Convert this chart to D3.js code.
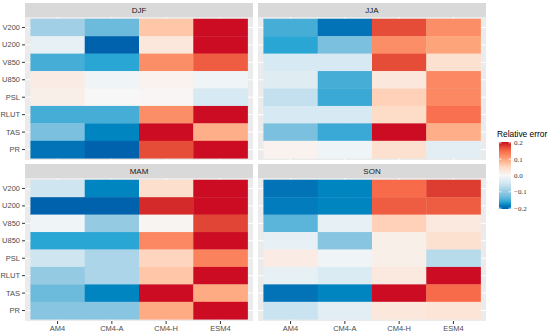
<!DOCTYPE html>
<html>
<head>
<meta charset="utf-8">
<script src="https://cdn.jsdelivr.net/npm/d3@7"></script>
<style>
  body { margin: 0; background: #fff; }
  svg { display: block; font-family: "Liberation Sans", Arial, sans-serif; }
</style>
</head>
<body>
<div id="chart"></div>
<script>
const models = ["AM4", "CM4-A", "CM4-H", "ESM4"];
const variables = ["V200", "U200", "V850", "U850", "PSL", "RLUT", "TAS", "PR"];
const seasons = ["DJF", "JJA", "MAM", "SON"];
const legendTicks = [-0.2, -0.1, 0, 0.1, 0.2];

// rows follow variables, columns follow models
const djf = [
    [-0.09, -0.13, 0.07, 0.2],
    [-0.02, -0.2, 0.03, 0.2],
    [-0.15, -0.16, 0.12, 0.16],
    [0.02, -0.01, 0.01, -0.01],
    [0.015, 0, 0.003, -0.04],
    [-0.15, -0.15, 0.12, 0.2],
    [-0.12, -0.18, 0.2, 0.09],
    [-0.19, -0.2, 0.17, 0.2]
];
const jja = [
    [-0.15, -0.19, 0.17, 0.12],
    [-0.16, -0.12, 0.12, 0.1],
    [-0.04, -0.04, 0.17, 0.04],
    [-0.03, -0.15, 0.03, 0.125],
    [-0.06, -0.155, 0.06, 0.125],
    [-0.04, -0.04, 0.05, 0.145],
    [-0.12, -0.155, 0.2, 0.09],
    [0.01, -0.01, 0.04, -0.025]
];
const mam = [
    [-0.05, -0.18, 0.045, 0.2],
    [-0.2, -0.2, 0.19, 0.2],
    [-0.01, -0.1, 0.005, 0.175],
    [-0.16, -0.16, 0.125, 0.2],
    [-0.05, -0.08, 0.055, 0.13],
    [-0.1, -0.08, 0.07, 0.2],
    [-0.13, -0.18, 0.2, 0.095],
    [-0.11, -0.11, 0.095, 0.2]
];
const son = [
    [-0.19, -0.18, 0.15, 0.18],
    [-0.185, -0.18, 0.16, 0.16],
    [-0.14, -0.02, 0.06, 0.025],
    [-0.02, -0.11, 0.015, 0.04],
    [0.02, -0.01, 0.015, -0.07],
    [-0.02, -0.035, 0.025, 0.2],
    [-0.19, -0.18, 0.2, 0.15],
    [-0.055, -0.025, 0.03, 0.035]
];
const seasonData = { DJF: djf, JJA: jja, MAM: mam, SON: son };

// colour stops as seen in the legend bar
const colorStops = [-0.2, -0.18, -0.16, -0.13, -0.1, -0.05, 0, 0.05, 0.1, 0.15, 0.2];
const colorValues = ["#0062ad", "#0085c1", "#2aa6d5", "#6dbbdc", "#95cae3", "#cfe6f1",
                     "#f7f7f7", "#fddcc8", "#fda47a", "#f76a4a", "#cb0c22"];

const width = 550, height = 335;
const svg = d3.select("#chart").append("svg")
    .attr("width", width)
    .attr("height", height);

const color = d3.scaleLinear()
    .domain(colorStops)
    .range(colorValues)
    .interpolate(d3.interpolateLab)
    .clamp(true);

// facet geometry
const colX = [25, 258];
const rowY = [3, 164];
const panelW = 228, stripH = 14, panelH = 143;

seasons.forEach((season, i) => {
    const px = colX[i % 2];
    const py = rowY[Math.floor(i / 2)];
    const g = svg.append("g").attr("transform", `translate(${px},${py})`);

    g.append("rect")
        .attr("width", panelW).attr("height", stripH)
        .attr("fill", "#d9d9d9");
    g.append("text")
        .attr("x", panelW / 2).attr("y", stripH / 2 + 3)
        .attr("text-anchor", "middle")
        .attr("font-size", 8)
        .attr("fill", "#1a1a1a")
        .text(season);

    const panel = g.append("g").attr("transform", `translate(0,${stripH})`);
    panel.append("rect")
        .attr("width", panelW).attr("height", panelH)
        .attr("fill", "#ebebeb");

    const x = d3.scaleBand().domain(models).range([0, panelW]).paddingOuter(0.1);
    const y = d3.scaleBand().domain(variables).range([0, panelH]).paddingOuter(0.1);

    // grid lines (only visible in the margins)
    panel.selectAll(".vgrid").data(models).join("line")
        .attr("x1", d => x(d) + x.bandwidth() / 2).attr("x2", d => x(d) + x.bandwidth() / 2)
        .attr("y1", 0).attr("y2", panelH)
        .attr("stroke", "#fff").attr("stroke-width", 1);
    panel.selectAll(".hgrid").data(variables).join("line")
        .attr("y1", d => y(d) + y.bandwidth() / 2).attr("y2", d => y(d) + y.bandwidth() / 2)
        .attr("x1", 0).attr("x2", panelW)
        .attr("stroke", "#fff").attr("stroke-width", 1);

    const cells = [];
    seasonData[season].forEach((row, r) => {
        row.forEach((v, c) => cells.push({ variable: variables[r], model: models[c], value: v }));
    });

    panel.selectAll(".cell").data(cells).join("rect")
        .attr("x", d => x(d.model))
        .attr("y", d => y(d.variable))
        .attr("width", x.bandwidth() + 0.3)
        .attr("height", y.bandwidth() + 0.3)
        .attr("fill", d => color(d.value));

    // y axis on left column
    if (i % 2 === 0) {
        const ya = panel.append("g")
            .call(d3.axisLeft(y).tickSize(3).tickPadding(2));
        ya.select(".domain").remove();
        ya.selectAll("line").attr("stroke", "#333");
        ya.selectAll("text").attr("font-size", 7.5).attr("fill", "#4d4d4d")
            .attr("font-family", "Liberation Sans, Arial, sans-serif");
    }
    // x axis on bottom row
    if (i >= 2) {
        const xa = panel.append("g")
            .attr("transform", `translate(0,${panelH})`)
            .call(d3.axisBottom(x).tickSize(3).tickPadding(2));
        xa.select(".domain").remove();
        xa.selectAll("line").attr("stroke", "#333");
        xa.selectAll("text").attr("font-size", 7.5).attr("fill", "#4d4d4d")
            .attr("font-family", "Liberation Sans, Arial, sans-serif");
    }
});

// legend
const legX = 499, legTop = 142, legBottom = 209, legW = 12;
const legend = svg.append("g");
legend.append("text")
    .attr("x", 497).attr("y", 137)
    .attr("font-size", 8.4)
    .attr("fill", "#000")
    .text("Relative error");

const defs = svg.append("defs");
const grad = defs.append("linearGradient")
    .attr("id", "legGrad")
    .attr("x1", 0).attr("y1", 1).attr("x2", 0).attr("y2", 0);
d3.range(0, 1.0001, 0.025).forEach(t => {
    grad.append("stop")
        .attr("offset", t)
        .attr("stop-color", color(-0.205 + t * 0.41));
});
legend.append("rect")
    .attr("x", legX).attr("y", legTop)
    .attr("width", legW).attr("height", legBottom - legTop)
    .attr("fill", "url(#legGrad)");

const ly = d3.scaleLinear().domain([-0.205, 0.205]).range([legBottom, legTop]);
legendTicks.forEach(t => {
    legend.append("line")
        .attr("x1", legX).attr("x2", legX + 2.5)
        .attr("y1", ly(t)).attr("y2", ly(t))
        .attr("stroke", "#fff").attr("stroke-width", 0.8);
    legend.append("line")
        .attr("x1", legX + legW - 2.5).attr("x2", legX + legW)
        .attr("y1", ly(t)).attr("y2", ly(t))
        .attr("stroke", "#fff").attr("stroke-width", 0.8);
    legend.append("text")
        .attr("x", legX + legW + 3).attr("y", ly(t) + 2.5)
        .attr("font-size", 7)
        .attr("font-family", "Liberation Serif, serif")
        .attr("fill", "#333")
        .text(d3.format(".1f")(t).replace("-", "\u2212"));
});
</script>
</body>
</html>
